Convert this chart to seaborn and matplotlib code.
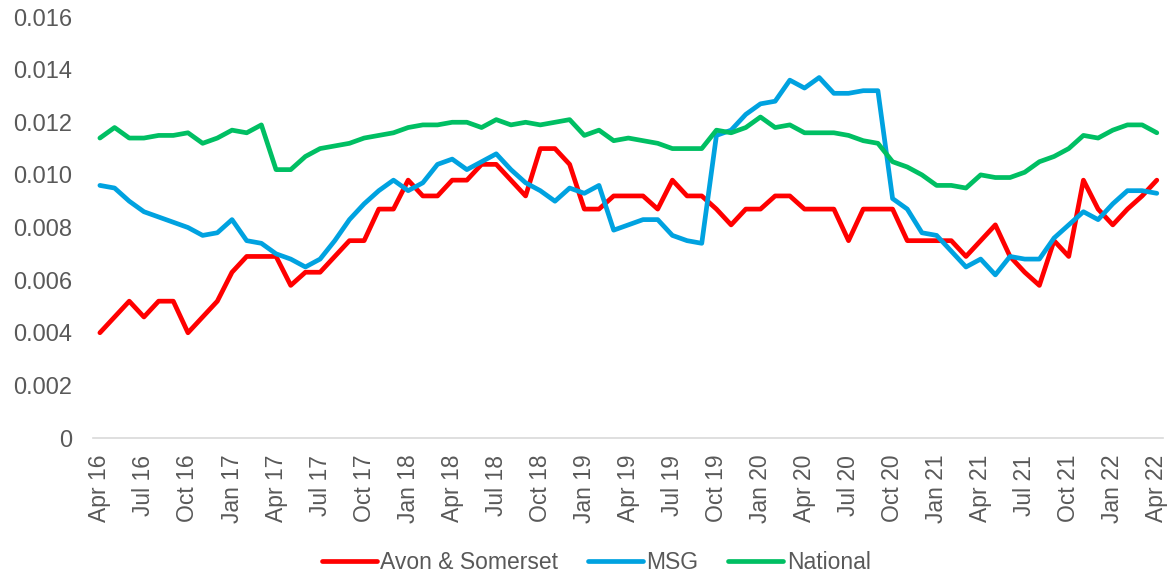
import pandas as pd
import matplotlib
matplotlib.use("Agg")
import matplotlib.pyplot as plt
import seaborn as sns

# monthly series, Apr 2016 - Apr 2022
months = pd.date_range("2016-04-01", periods=73, freq="MS")

avon = [
    0.0040, 0.0046, 0.0052, 0.0046, 0.0052, 0.0052, 0.0040, 0.0046, 0.0052, 0.0063,
    0.0069, 0.0069, 0.0069, 0.0058, 0.0063, 0.0063, 0.0069, 0.0075, 0.0075, 0.0087,
    0.0087, 0.0098, 0.0092, 0.0092, 0.0098, 0.0098, 0.0104, 0.0104, 0.0098, 0.0092,
    0.0110, 0.0110, 0.0104, 0.0087, 0.0087, 0.0092, 0.0092, 0.0092, 0.0087, 0.0098,
    0.0092, 0.0092, 0.0087, 0.0081, 0.0087, 0.0087, 0.0092, 0.0092, 0.0087, 0.0087,
    0.0087, 0.0075, 0.0087, 0.0087, 0.0087, 0.0075, 0.0075, 0.0075, 0.0075, 0.0069,
    0.0075, 0.0081, 0.0069, 0.0063, 0.0058, 0.0075, 0.0069, 0.0098, 0.0087, 0.0081,
    0.0087, 0.0092, 0.0098,
]

msg = [
    0.0096, 0.0095, 0.0090, 0.0086, 0.0084, 0.0082, 0.0080, 0.0077, 0.0078, 0.0083,
    0.0075, 0.0074, 0.0070, 0.0068, 0.0065, 0.0068, 0.0075, 0.0083, 0.0089, 0.0094,
    0.0098, 0.0094, 0.0097, 0.0104, 0.0106, 0.0102, 0.0105, 0.0108, 0.0102, 0.0097,
    0.0094, 0.0090, 0.0095, 0.0093, 0.0096, 0.0079, 0.0081, 0.0083, 0.0083, 0.0077,
    0.0075, 0.0074, 0.0115, 0.0117, 0.0123, 0.0127, 0.0128, 0.0136, 0.0133, 0.0137,
    0.0131, 0.0131, 0.0132, 0.0132, 0.0091, 0.0087, 0.0078, 0.0077, 0.0071, 0.0065,
    0.0068, 0.0062, 0.0069, 0.0068, 0.0068, 0.0076, 0.0081, 0.0086, 0.0083, 0.0089,
    0.0094, 0.0094, 0.0093,
]

national = [
    0.0114, 0.0118, 0.0114, 0.0114, 0.0115, 0.0115, 0.0116, 0.0112, 0.0114, 0.0117,
    0.0116, 0.0119, 0.0102, 0.0102, 0.0107, 0.0110, 0.0111, 0.0112, 0.0114, 0.0115,
    0.0116, 0.0118, 0.0119, 0.0119, 0.0120, 0.0120, 0.0118, 0.0121, 0.0119, 0.0120,
    0.0119, 0.0120, 0.0121, 0.0115, 0.0117, 0.0113, 0.0114, 0.0113, 0.0112, 0.0110,
    0.0110, 0.0110, 0.0117, 0.0116, 0.0118, 0.0122, 0.0118, 0.0119, 0.0116, 0.0116,
    0.0116, 0.0115, 0.0113, 0.0112, 0.0105, 0.0103, 0.0100, 0.0096, 0.0096, 0.0095,
    0.0100, 0.0099, 0.0099, 0.0101, 0.0105, 0.0107, 0.0110, 0.0115, 0.0114, 0.0117,
    0.0119, 0.0119, 0.0116,
]

series_names = ["Avon & Somerset", "MSG", "National"]
colors = ["#FF0000", "#00A2E0", "#00BF63"]

idx = list(range(len(months)))
df = pd.concat([
    pd.DataFrame({"idx": idx, "value": vals, "series": name})
    for name, vals in zip(series_names, [avon, msg, national])
])

sns.set_style("white")
plt.rcParams["font.family"] = ["Liberation Sans", "DejaVu Sans"]
text_col = "#595959"

fig = plt.figure(figsize=(11.69, 5.73), dpi=100)
ax = fig.add_axes([0.0798, 0.2356, 0.9148, 0.7347])

sns.lineplot(data=df, x="idx", y="value", hue="series", palette=colors,
             hue_order=series_names, linewidth=3.4, ax=ax, legend=False,
             solid_joinstyle="round", solid_capstyle="round")

ax.set_xlim(-0.45, 72.4)
ax.set_ylim(0, 0.016)
ax.set_yticks([i * 0.002 for i in range(9)])
ax.set_yticklabels(["0"] + [f"{i * 0.002:.3f}" for i in range(1, 9)])

tick_pos = idx[::3]
ax.set_xticks(tick_pos)
ax.set_xticklabels([months[i].strftime("%b %y") for i in tick_pos], rotation=90)

ax.set_xlabel("")
ax.set_ylabel("")
for s in ["top", "right", "left"]:
    ax.spines[s].set_visible(False)
ax.spines["bottom"].set_color("#D9D9D9")
ax.spines["bottom"].set_linewidth(1.2)
ax.tick_params(axis="both", length=0, labelsize=16.5, colors=text_col)
ax.tick_params(axis="y", labelsize=17, pad=15)
ax.tick_params(axis="x", pad=12)

handles = [plt.Line2D([], [], color=c, lw=3.4, solid_capstyle="round") for c in colors]
leg = fig.legend(handles, series_names, loc="center", bbox_to_anchor=(0.51, 0.0175),
                 ncol=3, frameon=False, fontsize=16.5, handlelength=2.4,
                 handletextpad=0.15, columnspacing=1.3)
for t in leg.get_texts():
    t.set_color(text_col)

fig.savefig("out.png", dpi=100)
